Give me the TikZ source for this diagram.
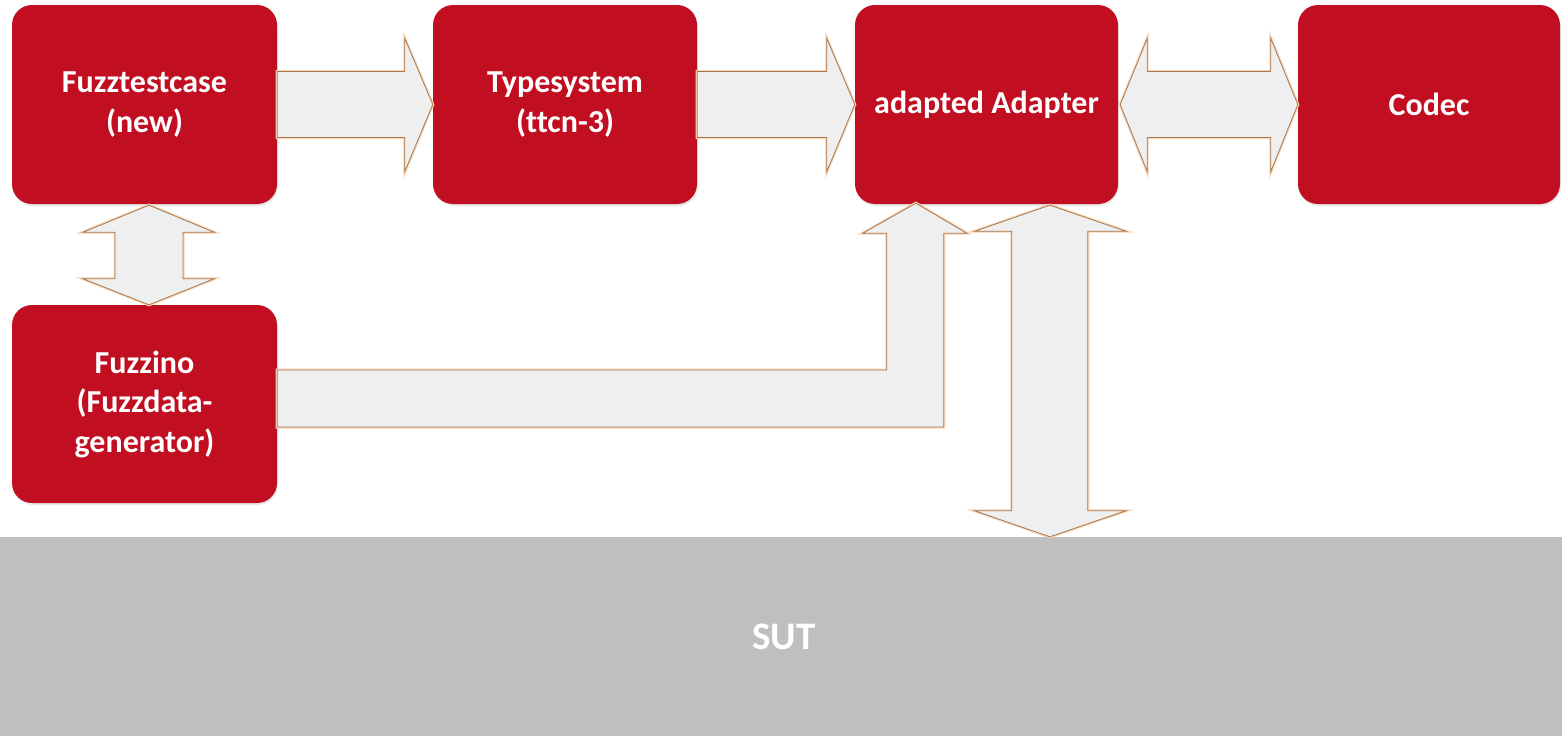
\documentclass[tikz,border=0pt]{standalone}
\usepackage{fontspec}
\setmainfont{Carlito}[Ligatures={TeX,NoCommon}]
\usetikzlibrary{calc,shadows}
\definecolor{boxred}{HTML}{C10E20}
\definecolor{sutgrey}{HTML}{BFBFBF}
\definecolor{arrowfill}{HTML}{EFEFEF}
\definecolor{arrowline}{HTML}{A8774F}
\definecolor{arrowglow}{HTML}{F9D5B5}
\tikzset{
  block/.style={rectangle, rounded corners=20pt, fill=boxred, text=white,
    minimum width=265pt, minimum height=199pt, inner sep=0pt, align=center,
    font=\bfseries\fontsize{32}{39.5}\selectfont,
    drop shadow={opacity=0.18, shadow xshift=1pt, shadow yshift=-2pt}},
  sutbox/.style={rectangle, fill=sutgrey, text=white, inner sep=0pt,
    minimum width=1562pt, minimum height=199pt,
    font=\bfseries\fontsize{39}{46}\selectfont},
  glowline/.style={draw=arrowglow, line width=3pt, line join=miter},
  blockarrow/.style={fill=arrowfill, draw=arrowline, line width=0.8pt, line join=miter},
}
\begin{document}
\begin{tikzpicture}[x=1pt, y=-1pt]
\useasboundingbox (0,0) rectangle (1562,736);

% components
\node[block] (ftc) at (144.5,104.5) {Fuzztestcase\\(new)};
\node[block, minimum width=264pt] (ts) at (565,104.5) {Typesystem\\(ttcn-3)};
\node[block, minimum width=263pt] (ad) at (986.5,104.5) {adapted Adapter};
\node[block, minimum width=262pt] (cod) at (1429,104.5) {Codec};
\node[block, minimum height=198pt] (fz) at (144.5,404) {Fuzzino\\(Fuzzdata-\\generator)};
\node[sutbox] (sut) at (781,636.5) {\hspace*{6pt}SUT};

% reference points for the vertical arrows
\coordinate (vtop) at ($(ftc.south)+(4.5,1)$);
\coordinate (vbot) at ($(fz.north)+(4.5,0)$);
\coordinate (t5) at ($(ad.south west)+(61,-1)$);
\coordinate (t6) at ($(ad.south west)+(195,1)$);
\coordinate (b6) at ($(sut.north west)+(1050,0)$);

% block arrows: glow underneath, outlined shape on top
\foreach \sty in {glowline,blockarrow}{
  % Fuzztestcase -> Typesystem
  \path[\sty] ($(ftc.east)+(0,-33)$) -- ($(ts.west)+(-28,-33)$) -- ($(ts.west)+(-28,-66)$)
    -- (ts.west) -- ($(ts.west)+(-28,67)$) -- ($(ts.west)+(-28,33)$) -- ($(ftc.east)+(0,33)$) -- cycle;
  % Typesystem -> adapted Adapter
  \path[\sty] ($(ts.east)+(0,-33)$) -- ($(ad.west)+(-28,-33)$) -- ($(ad.west)+(-28,-66)$)
    -- (ad.west) -- ($(ad.west)+(-28,67)$) -- ($(ad.west)+(-28,33)$) -- ($(ts.east)+(0,33)$) -- cycle;
  % adapted Adapter <-> Codec
  \path[\sty] ($(ad.east)+(2,0)$) -- ($(ad.east)+(29,-66)$) -- ($(ad.east)+(29,-33)$)
    -- ($(cod.west)+(-27,-33)$) -- ($(cod.west)+(-27,-66)$) -- (cod.west)
    -- ($(cod.west)+(-27,67)$) -- ($(cod.west)+(-27,33)$) -- ($(ad.east)+(29,33)$)
    -- ($(ad.east)+(29,67)$) -- cycle;
  % Fuzztestcase <-> Fuzzino
  \path[\sty] (vtop) -- ($(vtop)+(65,27)$) -- ($(vtop)+(34,27)$) -- ($(vbot)+(34,-26)$)
    -- ($(vbot)+(65,-26)$) -- (vbot) -- ($(vbot)+(-66,-26)$) -- ($(vbot)+(-34,-26)$)
    -- ($(vtop)+(-34,27)$) -- ($(vtop)+(-66,27)$) -- cycle;
  % Fuzzino -> adapted Adapter (bent)
  \path[\sty] ($(fz.east)+(0,-34)$) -- ($(t5|-fz.east)+(-29,-34)$) -- ($(t5)+(-29,30)$)
    -- ($(t5)+(-53,30)$) -- (t5) -- ($(t5)+(51,30)$) -- ($(t5)+(28,30)$)
    -- ($(t5|-fz.east)+(28,23)$) -- ($(fz.east)+(0,23)$) -- cycle;
  % adapted Adapter <-> SUT
  \path[\sty] (t6) -- ($(t6)+(76,26)$) -- ($(t6)+(38,26)$) -- ($(b6)+(38,-26)$)
    -- ($(b6)+(76,-26)$) -- (b6) -- ($(b6)+(-75,-26)$) -- ($(b6)+(-38,-26)$)
    -- ($(t6)+(-38,26)$) -- ($(t6)+(-75,26)$) -- cycle;
}
\end{tikzpicture}
\end{document}
